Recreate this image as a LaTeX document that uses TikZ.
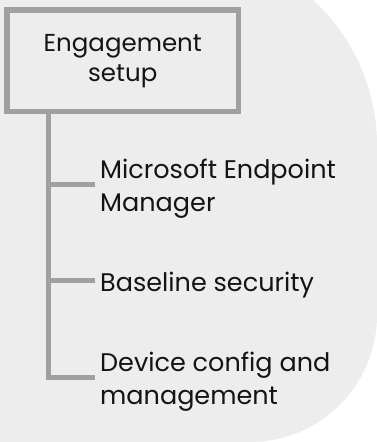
\documentclass[tikz,border=0pt]{standalone}
\usepackage{fontspec}
\setmainfont{Poppins}
\usepackage{tikz}
\usetikzlibrary{positioning,calc}
\definecolor{egbg}{RGB}{237,237,237}
\definecolor{egline}{RGB}{160,160,160}
\definecolor{egtext}{RGB}{20,20,20}
\tikzstyle{setupbox} = [rectangle, draw=egline, line width=5.5pt, fill=egbg, minimum width=231.5pt, minimum height=101.5pt, align=center, text=egtext, font=\fontsize{24.5}{30}\selectfont]
\tikzstyle{leaf} = [anchor=west, align=left, inner xsep=5pt, inner ysep=3pt, text=egtext, font=\fontsize{25.5}{33}\selectfont]
\tikzstyle{branch} = [line width=5pt, color=egline]

\begin{document}
\begin{tikzpicture}[x=1pt, y=1pt]
    \useasboundingbox (0,0) rectangle (377,442);
    % Background
    \fill[egbg] (0,442) -- (312.9,442) arc (47.7:0:196) -- (377,127) arc (0:-90:127) -- (0,0) -- cycle;

    % Engagement setup
    \node[setupbox] (setup) at (122.75,381.25) {Engagement\\setup};

    % Items
    \node[leaf] (mem) at (95,253.5) {Microsoft Endpoint\\Manager};
    \node[leaf] (base) at (95,157) {Baseline security};
    \node[leaf] (device) at (95,60) {Device config and\\management};

    % Tree
    \coordinate (trunk) at (48,0);
    \coordinate (memtip) at ([yshift=4pt]mem.west);
    \coordinate (basetip) at ([yshift=4pt]base.west);
    \coordinate (devicetip) at ([yshift=4pt]device.west);
    \draw[branch] (setup.south -| trunk) |- (devicetip);
    \draw[branch] (trunk |- memtip) -- (memtip);
    \draw[branch] (trunk |- basetip) -- (basetip);
\end{tikzpicture}
\end{document}
